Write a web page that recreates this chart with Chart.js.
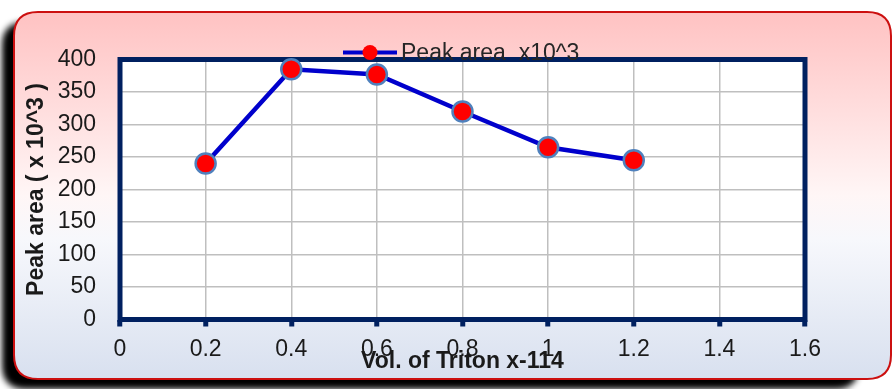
<!DOCTYPE html>
<html>
<head>
<meta charset="utf-8">
<script src="https://cdn.jsdelivr.net/npm/chart.js@4"></script>
<style>
  html, body { margin: 0; padding: 0; background: #ffffff; }
  #wrap { width: 893px; height: 389px; position: relative; }
</style>
</head>
<body>
<div id="wrap"><canvas id="c" width="893" height="389"></canvas></div>
<script>
// Triton X-114 volume vs. peak area
const volumes = [0.2, 0.4, 0.6, 0.8, 1.0, 1.2];
const peakArea = [240, 385, 377, 320, 265, 245];
const seriesLabel = 'Peak area  x10^3';
const xTitle = 'Vol. of Triton x-114';
const yTitle = 'Peak area ( x 10^3 )';

const FONT = "'Liberation Sans', Arial, sans-serif";
const NAVY = '#002060';
const LINE_BLUE = '#0000cc';

// Rounded card with a dark drop shadow, pink-to-blue fill, white plot area
const cardPlugin = {
  id: 'card',
  beforeDraw(chart) {
    const ctx = chart.ctx;
    const x = 14, y = 12, w = 877, h = 367, r = 24;
    ctx.save();
    // shadow
    ctx.save();
    ctx.filter = 'blur(3px)';
    ctx.fillStyle = '#000000';
    roundRect(ctx, x - 12, y + 10, w - 20, h, r);
    ctx.fill();
    ctx.restore();
    // card fill
    const g = ctx.createLinearGradient(0, y, 0, y + h);
    g.addColorStop(0, '#ffc2c2');
    g.addColorStop(0.5, '#fff6f6');
    g.addColorStop(0.62, '#f7f8fc');
    g.addColorStop(1, '#d8e0ef');
    roundRect(ctx, x, y, w, h, r);
    ctx.fillStyle = g;
    ctx.fill();
    ctx.lineWidth = 2;
    ctx.strokeStyle = '#cc1010';
    ctx.stroke();
    // plot area background
    const a = chart.chartArea;
    ctx.fillStyle = '#ffffff';
    ctx.fillRect(a.left, a.top, a.right - a.left, a.bottom - a.top);
    ctx.restore();
  },
  beforeDatasetsDraw(chart) {
    const ctx = chart.ctx;
    const a = chart.chartArea;
    ctx.save();
    ctx.strokeStyle = NAVY;
    ctx.lineWidth = 5;
    ctx.lineJoin = 'miter';
    ctx.strokeRect(a.left, a.top, a.right - a.left, a.bottom - a.top);
    ctx.restore();
  },
  afterDraw(chart) {
    // legend entry sitting on the top edge of the plot
    const ctx = chart.ctx;
    const ds = chart.data.datasets[0];
    ctx.save();
    ctx.strokeStyle = ds.borderColor;
    ctx.lineWidth = 4;
    ctx.beginPath();
    ctx.moveTo(343, 52.5);
    ctx.lineTo(397, 52.5);
    ctx.stroke();
    ctx.beginPath();
    ctx.arc(370, 52.5, 7.5, 0, Math.PI * 2);
    ctx.fillStyle = ds.pointBackgroundColor;
    ctx.fill();
    ctx.font = '23px ' + FONT;
    ctx.fillStyle = '#262626';
    ctx.textBaseline = 'alphabetic';
    ctx.textAlign = 'left';
    ctx.fillText(ds.label, 401, 60);
    ctx.restore();
  }
};

function roundRect(ctx, x, y, w, h, r) {
  ctx.beginPath();
  ctx.moveTo(x + r, y);
  ctx.lineTo(x + w - r, y);
  ctx.quadraticCurveTo(x + w, y, x + w, y + r);
  ctx.lineTo(x + w, y + h - r);
  ctx.quadraticCurveTo(x + w, y + h, x + w - r, y + h);
  ctx.lineTo(x + r, y + h);
  ctx.quadraticCurveTo(x, y + h, x, y + h - r);
  ctx.lineTo(x, y + r);
  ctx.quadraticCurveTo(x, y, x + r, y);
  ctx.closePath();
}

const points = volumes.map((v, i) => ({ x: v, y: peakArea[i] }));

new Chart(document.getElementById('c'), {
  type: 'line',
  data: {
    datasets: [{
      label: seriesLabel,
      data: points,
      borderColor: LINE_BLUE,
      borderWidth: 4.5,
      pointRadius: 10,
      pointHoverRadius: 10,
      pointBackgroundColor: '#ff0000',
      pointBorderColor: '#4f81bd',
      pointBorderWidth: 2.5,
      tension: 0,
      clip: false
    }]
  },
  options: {
    responsive: false,
    animation: false,
    devicePixelRatio: 1,
    layout: { padding: { left: 0, right: 88, top: 59.5, bottom: 0 } },
    plugins: {
      legend: { display: false },
      tooltip: { enabled: false }
    },
    scales: {
      x: {
        type: 'linear',
        min: 0,
        max: 1.6,
        afterFit(scale) { scale.height = 69.5; },
        ticks: {
          stepSize: 0.2,
          callback: (v) => String(parseFloat(Number(v).toFixed(2))),
          font: { family: FONT, size: 23 },
          color: '#1a1a1a',
          padding: 9,
          maxRotation: 0,
          autoSkip: false
        },
        grid: {
          color: '#bfbfbf',
          lineWidth: 1.5,
          drawTicks: true,
          tickLength: 7,
          tickColor: NAVY,
          tickWidth: 5
        },
        border: { display: false },
        title: {
          display: true,
          text: xTitle,
          font: { family: FONT, size: 23, weight: 'bold' },
          color: '#1a1a1a',
          padding: { top: 0, bottom: 14 }
        }
      },
      y: {
        min: 0,
        max: 400,
        afterFit(scale) { scale.width = 120; },
        ticks: {
          stepSize: 50,
          font: { family: FONT, size: 23 },
          color: '#1a1a1a',
          padding: 24
        },
        grid: {
          color: '#bfbfbf',
          lineWidth: 1.5,
          drawTicks: false
        },
        border: { display: false },
        title: {
          display: true,
          text: yTitle,
          font: { family: FONT, size: 23, weight: 'bold' },
          color: '#1a1a1a',
          padding: { top: 23, bottom: 0 }
        }
      }
    }
  },
  plugins: [cardPlugin]
});
</script>
</body>
</html>
